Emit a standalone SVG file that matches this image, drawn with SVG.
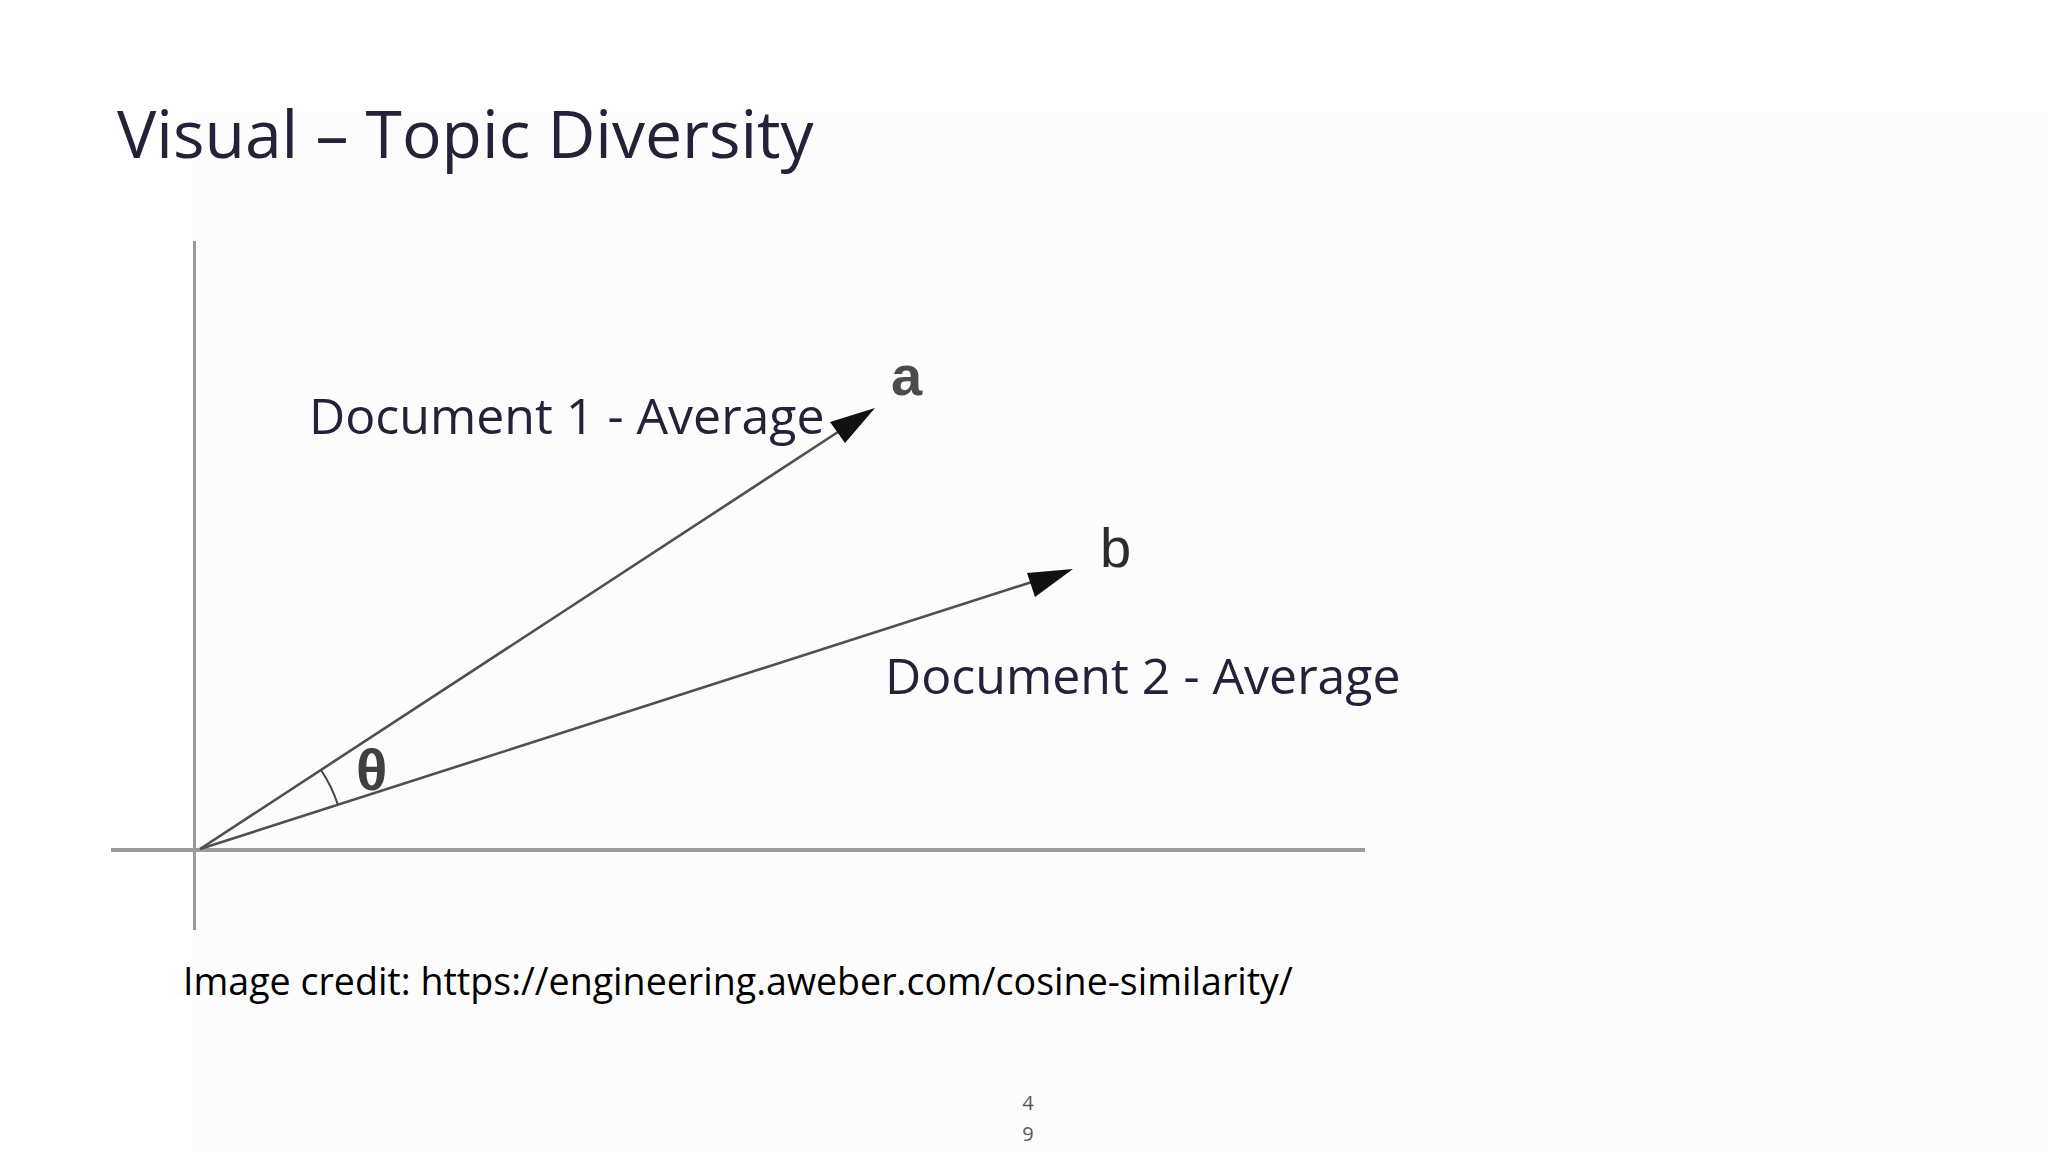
<svg xmlns="http://www.w3.org/2000/svg" width="2048" height="1152" viewBox="0 0 2048 1152">
<style>
.lbl{font-family:"Open Sans","Liberation Sans",sans-serif;fill:#262139}
.pic{font-family:"Liberation Sans","DejaVu Sans",sans-serif;fill:#2b2b2b}
.vec{stroke:#505050;stroke-width:2.6;fill:none}
.axis{stroke:#9a9a9a;fill:none}
</style>
<rect width="2048" height="1152" fill="#ffffff"/>
<rect x="193" y="112" width="1855" height="1040" fill="#fdfcfd"/>
<text id="title" class="lbl" x="117" y="158" font-size="66">Visual – Topic Diversity</text>
<g id="axes">
<line class="axis" x1="194.5" y1="241" x2="194.5" y2="930" stroke-width="3"/>
<line class="axis" x1="111" y1="850" x2="1365" y2="850" stroke-width="4" stroke="#a5a5a5"/>
</g>
<g id="connectors">
<line class="vec" x1="200" y1="849" x2="838" y2="432"/>
<polygon points="875,408 830,422 845,443" fill="#111"/>
<line class="vec" x1="200" y1="849" x2="1035" y2="581"/>
<polygon points="1073,569 1027,573 1035,597" fill="#111"/>
<path d="M321,770 A145,145 0 0 1 338,805" stroke="#444" stroke-width="2" fill="none"/>
</g>
<g id="node-a"><text class="pic" x="891" y="395" font-size="56" font-weight="bold" fill-opacity="0.85">a</text></g>
<g id="node-b"><text class="pic" x="1100" y="567" font-size="56">b</text></g>
<g id="theta"><text class="pic" x="356" y="790" font-size="58" font-weight="bold" fill-opacity="0.9">θ</text></g>
<g id="doc1"><text class="lbl" x="309" y="434" font-size="50">Document 1 - Average</text></g>
<g id="doc2"><text class="lbl" x="885" y="694" font-size="50">Document 2 - Average</text></g>
<text id="credit" x="183" y="995" font-family="'Open Sans','Liberation Sans',sans-serif" font-size="37.6" fill="#000">Image credit: https://engineering.aweber.com/cosine-similarity/</text>
<g id="pagenum" font-family="'Open Sans','Liberation Sans',sans-serif" font-size="20" fill="#595959" text-anchor="middle">
<text x="1028" y="1110">4</text>
<text x="1028" y="1141">9</text>
</g>
</svg>
